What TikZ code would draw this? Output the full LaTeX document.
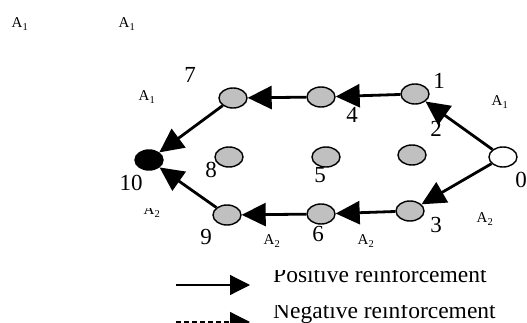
\documentclass[tikz,border=0pt]{standalone}
\usepackage{fontspec}
\setmainfont{Liberation Serif}
\usetikzlibrary{arrows.meta,shapes.geometric}
\definecolor{stgray}{HTML}{C0C0C0}
\newcommand\alabel[1]{A\textsubscript{#1}}
\begin{document}
\begin{tikzpicture}[x=1pt,y=-1pt,
  state/.style={draw,line width=1.4pt,ellipse,minimum width=28pt,minimum height=20pt,inner sep=0pt,fill=stgray},
  flow/.style={line width=2.8pt,-{Triangle[length=24pt,width=23pt]}},
  num/.style={font=\fontsize{23}{23}\selectfont,inner sep=0pt},
  alab/.style={font=\fontsize{15}{15}\selectfont,inner sep=0pt},
  leg/.style={font=\fontsize{23.5}{23.5}\selectfont,inner sep=0pt,anchor=base west},
  legarrow/.style={line width=1.2pt,-{Triangle[length=20pt,width=20pt]}}]
\useasboundingbox[fill=white] (0,0) rectangle (527,323);
% states
\node[state,fill=white] (s0) at (503,157) {};
\node[state] (s1) at (415,94) {};
\node[state] (s4) at (321,97) {};
\node[state] (s7) at (233,98) {};
\node[state] (s8) at (229,157) {};
\node[state] (s5) at (326,157) {};
\node[state] (s2) at (412,155) {};
\node[state,fill=black] (s10) at (149,160) {};
\node[state] (s9) at (227,215) {};
\node[state] (s6) at (321,214) {};
\node[state] (s3) at (410,211) {};
% transitions
\draw[flow] (s0) -- (s1);
\draw[flow] (s1) -- (s4);
\draw[flow] (s4) -- (s7);
\draw[flow] (s7) -- (s10);
\draw[flow] (s0) -- (s3);
\draw[flow] (s3) -- (s6);
\draw[flow] (s6) -- (s9);
\draw[flow] (s9) -- (s10);
% number labels
\node[num] (n7) at (190,75) {7};
\node[num] (n1) at (439,81) {1};
\node[num] (n4) at (352,115) {4};
\node[num] (n2) at (436,129) {2};
\node[num] (n8) at (211,170) {8};
\node[num] (n5) at (320,175) {5};
\node[num] (n10) at (131,183) {10};
\node[num] (n0) at (521,180) {0};
\node[num] (n9) at (206,237) {9};
\node[num] (n6) at (318,234) {6};
\node[num] (n3) at (436,225) {3};
% action labels
\node[alab] (a1) at (20,24) {\alabel{1}};
\node[alab] (a2) at (127,24) {\alabel{1}};
\node[alab] (a3) at (147,97) {\alabel{1}};
\node[alab] (a4) at (500,102) {\alabel{1}};
\begin{scope}
  \clip (120,208) rectangle (190,230);
  \node[alab] (a5) at (152,211) {\alabel{2}};
\end{scope}
\node[alab] (a6) at (272,241) {\alabel{2}};
\node[alab] (a7) at (366,241) {\alabel{2}};
\node[alab] (a8) at (485,219) {\alabel{2}};
% legend
\coordinate (p1) at (176,285);
\coordinate (p2) at (250,285);
\coordinate (q1) at (176,322);
\coordinate (q2) at (250,322);
\draw[legarrow] (p1) -- (p2);
\draw[legarrow,dashed,dash pattern=on 5pt off 3pt] (q1) -- (q2);
\begin{scope}
  \clip (260,270) rectangle (527,300);
  \node[leg] (lp) at (273,282) {Positive reinforcement};
\end{scope}
\begin{scope}
  \clip (260,305) rectangle (527,323);
  \node[leg] (ln) at (273,318) {Negative reinforcement};
\end{scope}
\end{tikzpicture}
\end{document}
